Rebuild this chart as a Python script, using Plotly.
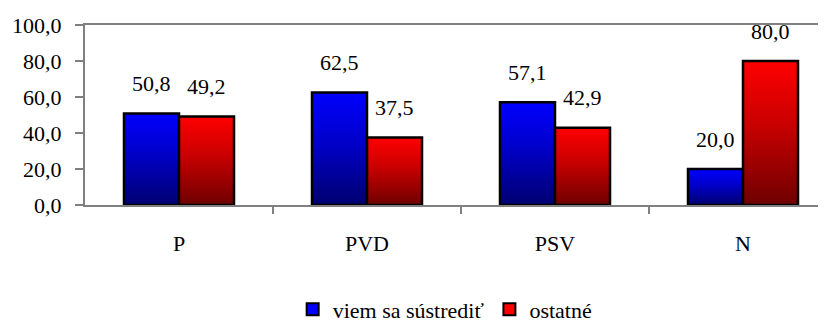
import plotly.graph_objects as go

categories = ["P", "PVD", "PSV", "N"]
series_names = ["viem sa sústrediť", "ostatné"]
viem = [50.8, 62.5, 57.1, 20.0]
ostatne = [49.2, 37.5, 42.9, 80.0]
y_ticks = [0, 20, 40, 60, 80, 100]

FONT = "Tinos, Liberation Serif, Times New Roman, serif"
FS = 22
GRAY = "#808080"
BAR_W = 0.2926
scales = [
    [[0, "#000070"], [0.55, "#0000C8"], [1, "#0000FF"]],
    [[0, "#6E0000"], [0.55, "#C80000"], [1, "#FF0000"]],
]
solid = ["#0000FF", "#FF0000"]
TXT = dict(family=FONT, size=FS, color="black")

fig = go.Figure()

for si, vals in enumerate([viem, ostatne]):
    for ci, v in enumerate(vals):
        x0 = ci - BAR_W if si == 0 else ci
        x1 = x0 + BAR_W
        fig.add_trace(go.Scatter(
            x=[x0, x0, x1, x1, x0], y=[0, v, v, 0, 0],
            mode="lines", fill="toself",
            line=dict(color="black", width=2.5),
            fillgradient=dict(type="vertical", colorscale=scales[si], start=0, stop=v),
            showlegend=False, hoverinfo="skip",
        ))
        fig.add_annotation(
            x=(x0 + x1) / 2, y=v, yshift=30, showarrow=False,
            text=f"{v:.1f}".replace(".", ","), font=TXT,
        )
    fig.add_trace(go.Bar(
        x=[None], y=[None], name=series_names[si],
        marker=dict(color=solid[si], line=dict(color="black", width=2)),
    ))

fig.update_layout(
    width=818, height=314,
    margin=dict(l=77, r=0, t=17, b=117),
    paper_bgcolor="white", plot_bgcolor="white",
    separators=", ",
    font=TXT,
    showlegend=True,
    legend=dict(
        orientation="h", xref="container", yref="container",
        x=0.348, xanchor="left", y=0.04, yanchor="middle",
        font=TXT, bgcolor="rgba(0,0,0,0)", itemclick=False,
    ),
    xaxis=dict(
        range=[-0.5, 3.4415], tickmode="array",
        tickvals=list(range(len(categories))), ticktext=categories,
        tickfont=TXT,
        ticks="", showgrid=False, zeroline=False,
        showline=True, linecolor=GRAY, linewidth=2, mirror=True,
        ticklabelstandoff=18,
        minor=dict(tickmode="array", tickvals=[0.5, 1.5, 2.5], ticks="outside",
                   ticklen=7, tickcolor=GRAY, tickwidth=1.5, showgrid=False),
        fixedrange=True,
    ),
    yaxis=dict(
        range=[0, 100], tickmode="array", tickvals=y_ticks, tickformat=".1f",
        tickfont=TXT,
        ticks="outside", ticklen=8, tickcolor=GRAY, tickwidth=1.5,
        showgrid=False, zeroline=False,
        showline=True, linecolor=GRAY, linewidth=2,
        ticklabelstandoff=9, fixedrange=True,
    ),
)

fig.write_html("out.html")
